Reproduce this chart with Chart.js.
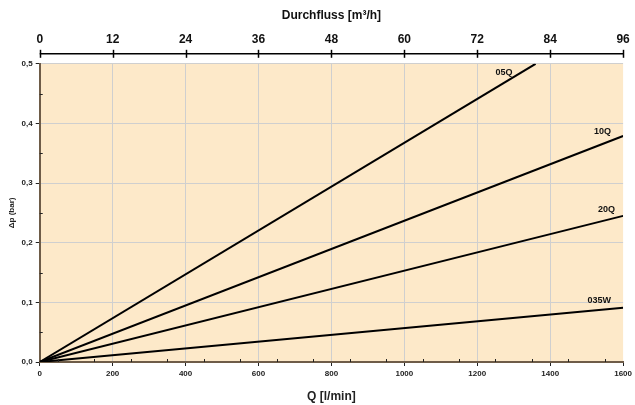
<!DOCTYPE html>
<html>
<head>
<meta charset="utf-8">
<script src="https://cdn.jsdelivr.net/npm/chart.js@4/dist/chart.umd.min.js"></script>
<style>
  html, body { margin: 0; padding: 0; background: #fff; }
  #wrap { width: 635px; height: 405px; }
</style>
</head>
<body>
<div id="wrap"><canvas id="c"></canvas></div>
<script>
// valve curves: Δp (bar) vs Q (l/min), straight lines from origin
const series = ['05Q', '10Q', '20Q', '035W'];
const qStart = [0, 0, 0, 0];
const dpStart = [0, 0, 0, 0];
const qEnd = [1360, 1600, 1600, 1600];
const dpEnd = [0.5, 0.379, 0.245, 0.091];

const xTicks = [0, 200, 400, 600, 800, 1000, 1200, 1400, 1600];
const topTicks = [0, 12, 24, 36, 48, 60, 72, 84, 96];
const yTicks = [0, 0.1, 0.2, 0.3, 0.4, 0.5];

// label placement relative to line end (px)
const labelDx = [-23, -12, -8, -12];
const labelDy = [9, -4, -6, -7];

const FONT = "'Liberation Sans', Arial, Helvetica, sans-serif";
const axisBrown = '#6e5c48';

const extras = {
  id: 'extras',
  beforeDraw(chart) {
    const { ctx, chartArea: a } = chart;
    ctx.save();
    ctx.fillStyle = '#fde9c9';
    ctx.fillRect(a.left, a.top, a.right - a.left, a.bottom - a.top);
    ctx.restore();
  },
  afterDraw(chart) {
    const { ctx, chartArea: a, scales } = chart;
    const x = scales.x, y = scales.y, t = scales.x2;
    ctx.save();
    // minor ticks inside the plot
    ctx.strokeStyle = '#222';
    ctx.lineWidth = 1;
    for (let v = 50; v < 1600; v += 100) {
      const px = Math.round(x.getPixelForValue(v)) + 0.5;
      ctx.beginPath(); ctx.moveTo(px, a.bottom); ctx.lineTo(px, a.bottom - 3); ctx.stroke();
    }
    for (let v = 0.05; v < 0.5; v += 0.1) {
      const py = Math.round(y.getPixelForValue(v)) + 0.5;
      ctx.beginPath(); ctx.moveTo(a.left, py); ctx.lineTo(a.left + 3, py); ctx.stroke();
    }
    // top flow axis line, set off from the plot
    const ly = a.top - 10;
    ctx.strokeStyle = '#000';
    ctx.lineWidth = 1.5;
    ctx.beginPath(); ctx.moveTo(a.left, ly); ctx.lineTo(a.right, ly); ctx.stroke();
    topTicks.forEach(v => {
      const px = Math.round(t.getPixelForValue(v)) + 0.5;
      ctx.beginPath(); ctx.moveTo(px, ly - 4); ctx.lineTo(px, ly + 4); ctx.stroke();
    });
    // curve labels
    ctx.fillStyle = '#111';
    ctx.font = 'bold 9px ' + FONT;
    ctx.textAlign = 'right';
    ctx.textBaseline = 'middle';
    series.forEach((s, i) => {
      let px = x.getPixelForValue(qEnd[i]);
      let py = y.getPixelForValue(dpEnd[i]);
      ctx.fillText(s, px + labelDx[i], py + labelDy[i]);
    });
    ctx.restore();
  }
};

new Chart(document.getElementById('c'), {
  type: 'line',
  data: {
    datasets: series.map((s, i) => ({
      label: s,
      data: [{ x: qStart[i], y: dpStart[i] }, { x: qEnd[i], y: dpEnd[i] }],
      borderColor: '#000',
      borderWidth: 2,
      pointRadius: 0,
      fill: false,
      tension: 0
    }))
  },
  options: {
    responsive: true,
    maintainAspectRatio: false,
    animation: false,
    layout: { padding: { left: 1, right: -3, top: 8, bottom: 1 } },
    plugins: { legend: { display: false }, tooltip: { enabled: false } },
    scales: {
      x: {
        type: 'linear',
        min: 0, max: 1600,
        afterBuildTicks: s => { s.ticks = xTicks.map(v => ({ value: v })); },
        ticks: { color: '#222', font: { family: FONT, size: 8, weight: 'bold' }, padding: 3, maxRotation: 0,
          callback: v => String(v) },
        grid: { color: ctx => ctx.tick && ctx.tick.value > 0 && ctx.tick.value < 1600 ? '#cfcfcf' : 'rgba(0,0,0,0)', tickColor: '#222', tickLength: 4, lineWidth: 1 },
        border: { color: axisBrown, width: 2 },
        title: { display: true, text: 'Q [l/min]', color: '#222', font: { family: FONT, size: 12, weight: 'bold' }, padding: { top: 8, bottom: 0 } }
      },
      x2: {
        type: 'linear',
        position: 'top',
        min: 0, max: 96,
        afterBuildTicks: s => { s.ticks = topTicks.map(v => ({ value: v })); },
        ticks: { color: '#111', font: { family: FONT, size: 12, weight: 'bold' }, padding: 0, maxRotation: 0 },
        grid: { display: false, drawTicks: true, tickLength: 17 },
        border: { display: false },
        title: { display: true, text: 'Durchfluss [m³/h]', color: '#111', font: { family: FONT, size: 12, weight: 'bold' }, padding: { top: 0, bottom: 10 } }
      },
      y: {
        min: 0, max: 0.5,
        afterBuildTicks: s => { s.ticks = yTicks.map(v => ({ value: v })); },
        ticks: { color: '#222', font: { family: FONT, size: 8, weight: 'bold' }, padding: 3,
          callback: v => v.toFixed(1).replace('.', ',') },
        grid: { color: ctx => ctx.tick && ctx.tick.value > 0 ? '#cfcfcf' : 'rgba(0,0,0,0)', tickColor: '#222', tickLength: 4, lineWidth: 1 },
        border: { color: axisBrown, width: 2 },
        title: { display: true, text: 'Δp (bar)', color: '#222', font: { family: FONT, size: 8, weight: 'bold' }, padding: { top: 6, bottom: 2 } }
      }
    }
  },
  plugins: [extras]
});
</script>
</body>
</html>
